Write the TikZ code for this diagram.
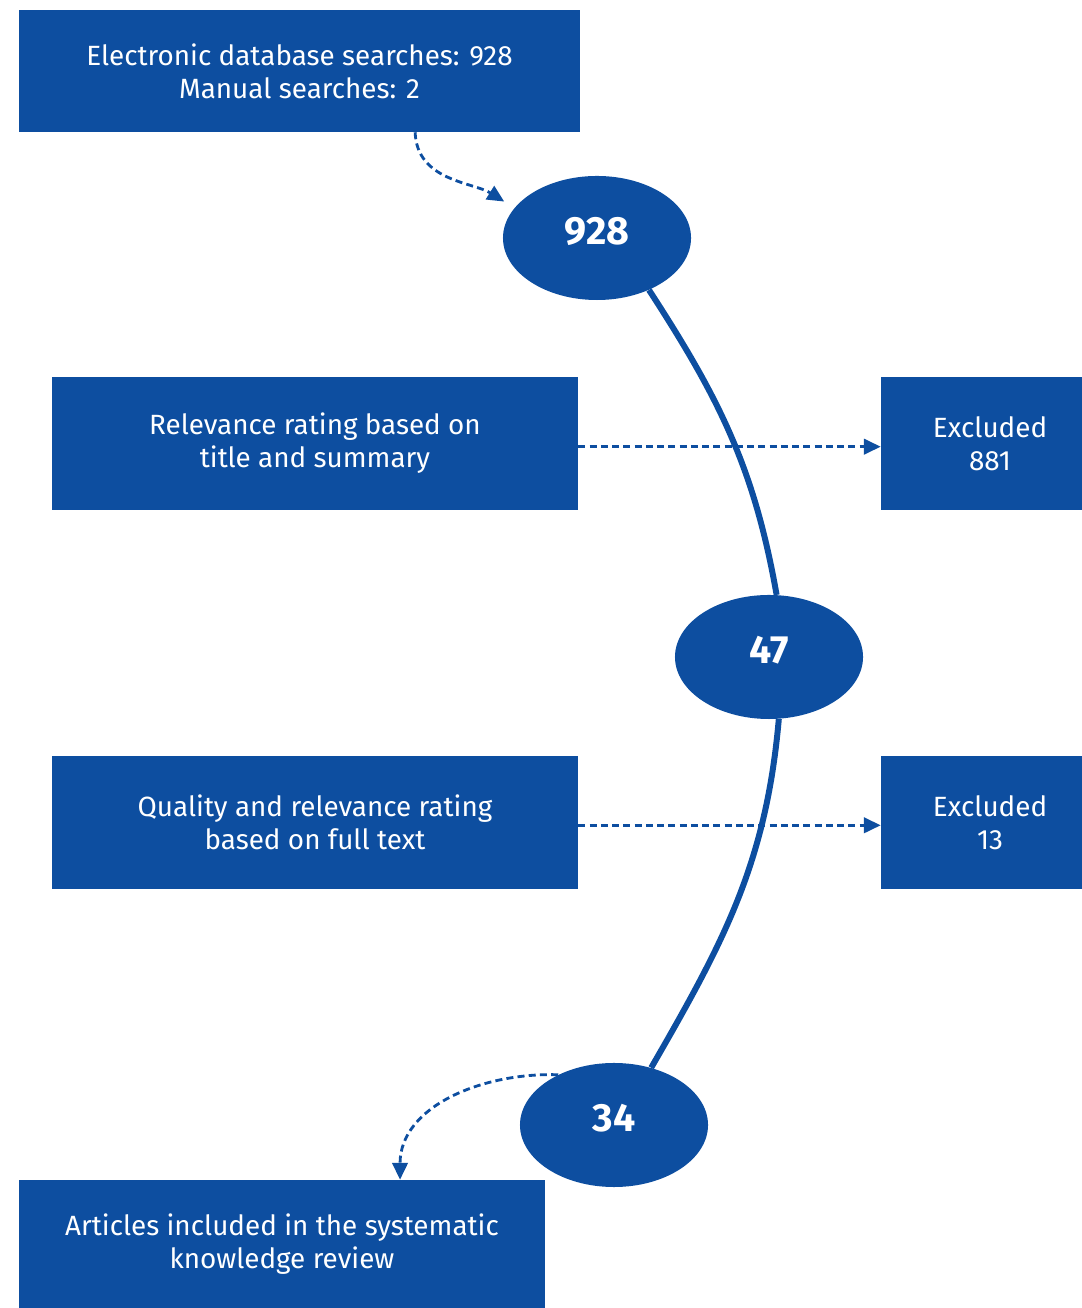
\documentclass[tikz,border=0pt]{standalone}
\usepackage{fontspec}
\setmainfont{Fira Sans}
\usetikzlibrary{positioning,arrows.meta,shapes.geometric,calc}
\usepackage{xcolor}
\definecolor{flowblue}{HTML}{0D4EA0}

\begin{document}
\begin{tikzpicture}[
    x=0.025cm, y=0.025cm,
    stageBox/.style={rectangle, fill=flowblue, text=white, minimum width=13.15cm, minimum height=3.325cm, align=center, font=\fontsize{19.8}{23.5}\selectfont, inner sep=0pt},
    exclBox/.style={stageBox, minimum width=5.45cm},
    countNode/.style={ellipse, fill=flowblue, text=white, minimum width=4.7cm, minimum height=3.1cm, font=\fontsize{28}{32}\selectfont\bfseries, text depth=0.35cm, inner sep=0pt},
    flowLine/.style={line width=4.25pt, draw=flowblue},
    dotArrow/.style={line width=2pt, draw=flowblue, dash pattern=on 5pt off 3pt, -{Triangle[length=12pt,width=11pt]}}
]
    \useasboundingbox (0,0) rectangle (1081,1308);

    \node[stageBox, minimum width=14.025cm, minimum height=3.05cm] (search) at (299.5,1237) {Electronic database searches: 928\\Manual searches: 2};
    \node[countNode] (n928) at (597,1070) {928};

    \node[stageBox] (relev) at (315,864.5) {Relevance rating based on\\title and summary};
    \node[exclBox]  (excl1) at (990,864.5) {Excluded\\881};
    \node[countNode] (n47) at (769,651) {47};

    \node[stageBox] (qual)  at (315,485.5) {Quality and relevance rating\\based on full text};
    \node[exclBox]  (excl2) at (990,485.5) {Excluded\\13};
    \node[countNode] (n34) at (614,183) {34};

    \node[stageBox, minimum height=3.2cm] (incl) at (282,64) {Articles included in the systematic\\knowledge review};

    \draw[flowLine] (n928.-45) to[out=-57, in=100] (n47.83);
    \draw[flowLine] (n47.-81) to[out=-95, in=60] (n34.57);

    \draw[dotArrow, shorten >=0.3cm] ([xshift=2.89cm]search.south) to[out=-88, in=148] (n928.160);
    \draw[dotArrow] ([yshift=-0.08cm]relev.east) -- ([yshift=-0.08cm]excl1.west);
    \draw[dotArrow] ([yshift=-0.07cm]qual.east) -- ([yshift=-0.07cm]excl2.west);
    \draw[dotArrow] (n34.138) to[out=178, in=90] ([xshift=2.95cm]incl.north);
\end{tikzpicture}
\end{document}
